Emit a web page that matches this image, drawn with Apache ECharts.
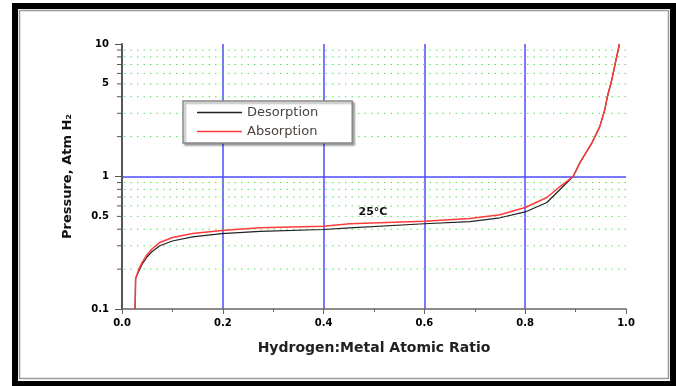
<!DOCTYPE html>
<html>
<head>
<meta charset="utf-8">
<script src="https://cdn.jsdelivr.net/npm/echarts@6/dist/echarts.min.js"></script>
<style>
  html, body { margin: 0; padding: 0; background: #fff; }
  #chart { width: 676px; height: 386px; }
</style>
</head>
<body>
<div id="chart"></div>
<script>
// values
const absX = [0.026, 0.027, 0.033, 0.040, 0.050, 0.060, 0.075, 0.100, 0.140, 0.198, 0.274, 0.400, 0.452, 0.600, 0.690, 0.750, 0.800, 0.843, 0.869, 0.895, 0.909, 0.933, 0.948, 0.958, 0.963, 0.972, 0.979, 0.987]
const absY = [0.100, 0.170, 0.198, 0.225, 0.258, 0.285, 0.318, 0.346, 0.372, 0.392, 0.410, 0.422, 0.440, 0.460, 0.482, 0.515, 0.584, 0.694, 0.840, 1.00, 1.28, 1.81, 2.38, 3.20, 4.00, 5.40, 7.25, 10.0]
const desX = [0.026, 0.027, 0.033, 0.040, 0.050, 0.060, 0.075, 0.100, 0.140, 0.198, 0.274, 0.400, 0.452, 0.600, 0.690, 0.750, 0.800, 0.843, 0.869, 0.895, 0.909, 0.933, 0.948, 0.958, 0.963, 0.972, 0.979, 0.987]
const desY = [0.100, 0.170, 0.192, 0.218, 0.248, 0.272, 0.300, 0.326, 0.350, 0.371, 0.386, 0.398, 0.410, 0.440, 0.456, 0.488, 0.540, 0.637, 0.798, 1.00, 1.28, 1.81, 2.38, 3.20, 4.00, 5.40, 7.25, 10.0]

// y axis: labelled ticks and the 2..9 minor ticks of each decade
const yLabels = [0.1, 0.5, 1, 5, 10]
const yMinor = [0.2, 0.3, 0.4, 0.5, 0.6, 0.7, 0.8, 0.9, 2, 3, 4, 5, 6, 7, 8, 9]

const font = 'DejaVu Sans'
const blue = '#4d4dff'
const axisCol = '#555'

const chart = echarts.init(document.getElementById('chart'))

const option = {
  animation: false,
  grid: { left: 122, top: 44, right: 50, bottom: 77 },
  legend: {
    data: ['Desorption', 'Absorption'],
    orient: 'vertical',
    left: 183,
    top: 101,
    icon: 'rect',
    itemWidth: 45,
    itemHeight: 1.3,
    itemGap: 6,
    padding: [5, 34, 5, 14],
    backgroundColor: '#fff',
    borderColor: '#888',
    borderWidth: 1.5,
    shadowColor: 'rgba(0,0,0,0.35)',
    shadowBlur: 2,
    shadowOffsetX: 2,
    shadowOffsetY: 2,
    textStyle: { fontSize: 13, fontFamily: font, color: '#4a4440' }
  },
  xAxis: {
    type: 'value',
    min: 0,
    max: 1,
    interval: 0.2,
    name: 'Hydrogen:Metal Atomic Ratio',
    nameLocation: 'middle',
    nameGap: 32,
    nameTextStyle: { fontSize: 14, fontWeight: 'bold', fontFamily: font, color: '#222' },
    axisLine: { lineStyle: { color: '#666', width: 1.5 } },
    axisTick: { show: true, length: 5, lineStyle: { color: '#666' } },
    minorTick: { show: true, splitNumber: 2, length: 3, lineStyle: { color: '#666' } },
    axisLabel: {
      formatter: v => v.toFixed(1),
      fontSize: 10,
      fontWeight: 'bold',
      fontFamily: font,
      color: '#000',
      margin: 9
    },
    splitLine: {
      show: true,
      showMinLine: false,
      showMaxLine: false,
      lineStyle: { color: blue, width: 1.5 }
    }
  },
  yAxis: {
    type: 'log',
    logBase: 10,
    min: 0.1,
    max: 10,
    name: 'Pressure, Atm H\u2082',
    nameLocation: 'middle',
    nameGap: 48,
    nameTextStyle: { fontSize: 13, fontWeight: 'bold', fontFamily: font, color: '#111' },
    axisLine: { show: true, lineStyle: { color: axisCol, width: 2 } },
    axisTick: { show: true, length: 7, lineStyle: { color: axisCol } },
    axisLabel: { show: false },
    splitLine: {
      show: true,
      showMinLine: false,
      showMaxLine: false,
      lineStyle: { color: blue, width: 1.5 }
    }
  },
  graphic: [
    {
      type: 'rect',
      silent: true,
      shape: { x: 15, y: 6, width: 658, height: 378 },
      style: { fill: null, stroke: '#000', lineWidth: 6 }
    },
    {
      type: 'rect',
      silent: true,
      shape: { x: 19.5, y: 10.5, width: 649, height: 368 },
      style: { fill: null, stroke: '#999', lineWidth: 1.5 }
    },
    {
      type: 'text',
      silent: true,
      x: 373,
      y: 212,
      style: {
        text: '25°C',
        align: 'center',
        verticalAlign: 'middle',
        fontSize: 11,
        fontWeight: 'bold',
        fontFamily: font,
        fill: '#111'
      }
    }
  ],
  series: [
    {
      // green dotted minor grid + minor ticks on the y axis
      type: 'custom',
      z: 1,
      silent: true,
      data: yMinor.map(v => [0, v]),
      renderItem: (params, api) => {
        const v = api.value(1)
        const p0 = api.coord([0, v])
        const p1 = api.coord([1, v])
        return {
          type: 'group',
          children: [
            {
              type: 'line',
              shape: { x1: p0[0] + 2, y1: p0[1], x2: p1[0], y2: p1[1] },
              style: { stroke: '#55e055', lineWidth: 1, lineDash: [1.5, 5] }
            },
            {
              type: 'line',
              shape: { x1: p0[0] - 5, y1: p0[1], x2: p0[0], y2: p0[1] },
              style: { stroke: axisCol, lineWidth: 1 }
            }
          ]
        }
      }
    },
    {
      // y tick labels (10, 5, 1, 0.5, 0.1)
      type: 'custom',
      silent: true,
      data: yLabels.map(v => [0, v]),
      renderItem: (params, api) => {
        const v = api.value(1)
        const p = api.coord([0, v])
        return {
          type: 'text',
          x: p[0] - 13,
          y: p[1],
          style: {
            text: String(v),
            align: 'right',
            verticalAlign: 'middle',
            fontSize: 10,
            fontWeight: 'bold',
            fontFamily: font,
            fill: '#000'
          }
        }
      }
    },
    {
      name: 'Desorption',
      type: 'line',
      symbol: 'none',
      color: '#222',
      lineStyle: { color: '#222', width: 1.2 },
      data: desX.map((x, i) => [x, desY[i]])
    },
    {
      name: 'Absorption',
      type: 'line',
      symbol: 'none',
      color: '#ff3b3b',
      lineStyle: { color: '#ff3b3b', width: 1.5 },
      data: absX.map((x, i) => [x, absY[i]])
    }
  ]
}

chart.setOption(option)
</script>
</body>
</html>
